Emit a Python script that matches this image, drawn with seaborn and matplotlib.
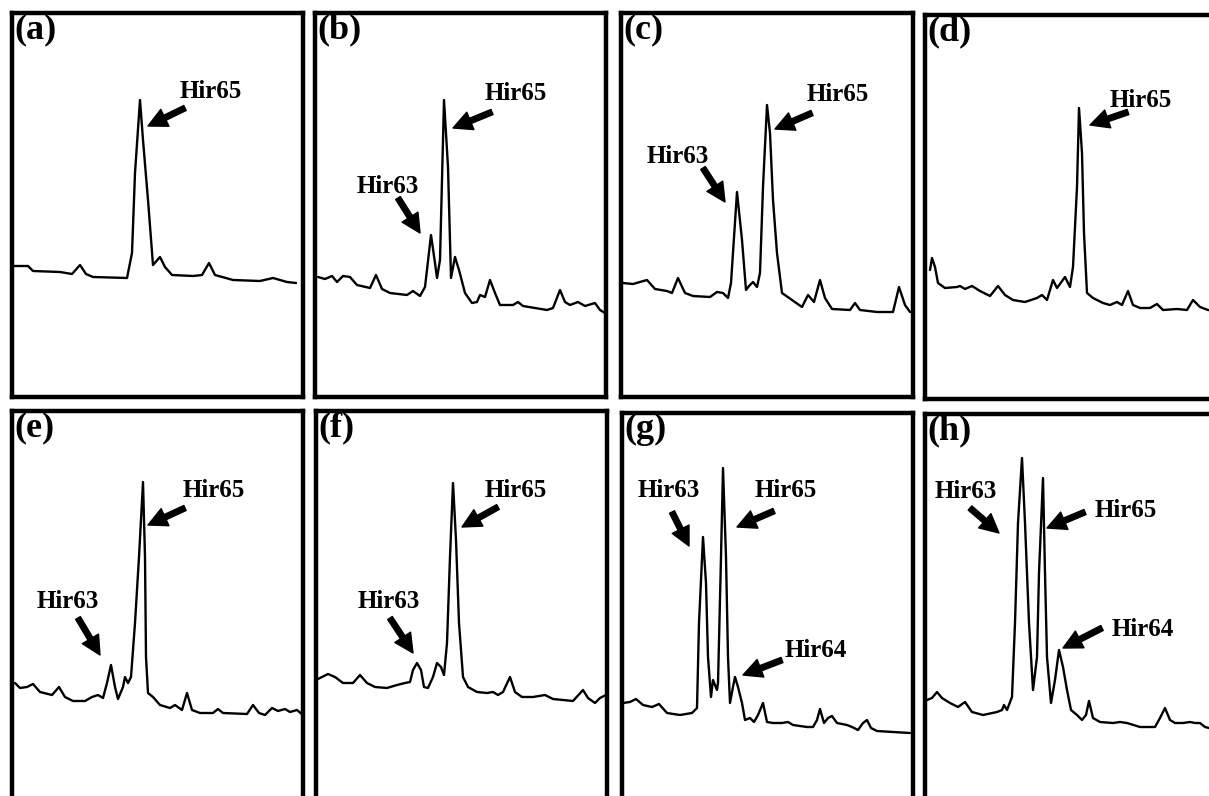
import matplotlib
matplotlib.use("Agg")
import matplotlib.pyplot as plt
import seaborn as sns

# Хроматограммы: время (условные единицы) и сигнал детектора
a_time = [1, 16, 21, 48, 60, 68, 74, 81, 115, 120, 123, 128, 131, 136, 141, 148, 153, 160,
          181, 190, 197, 203, 221, 248, 261, 275, 284]
a_signal = [131, 131, 126, 125, 123, 132, 123, 120, 119, 144, 224, 297, 257, 197, 132, 140, 130, 122,
            121, 122, 134, 122, 117, 116, 119, 115, 114]

b_time = [3, 10, 17, 22, 28, 35, 42, 55, 61, 67, 75, 92, 98, 105, 110, 116, 120, 122, 125, 129,
          133, 136, 140, 144, 150, 157, 162, 165, 170, 175, 180, 185, 198, 203, 208, 232, 238,
          245, 250, 255, 263, 270, 280, 285, 290]
b_signal = [120, 118, 121, 115, 121, 120, 112, 109, 122, 108, 104, 102, 106, 101, 110, 162, 134, 119, 137, 297,
            230, 119, 140, 127, 104, 94, 95, 102, 100, 117, 104, 92, 92, 95, 91, 87, 89,
            107, 95, 92, 95, 91, 94, 87, 84]

c_time = [2, 12, 26, 34, 46, 51, 57, 64, 72, 89, 96, 102, 107, 110, 116, 121, 125, 128, 132, 136,
          139, 142, 146, 149, 152, 156, 161, 171, 181, 187, 193, 199, 204, 211, 229, 234, 239,
          256, 272, 278, 284, 289]
c_signal = [114, 113, 117, 108, 106, 104, 119, 104, 101, 100, 105, 104, 99, 114, 205, 157, 107, 111, 115, 110,
            124, 210, 292, 264, 197, 144, 104, 97, 90, 102, 95, 117, 99, 88, 87, 94, 87,
            85, 85, 110, 92, 85]

d_time = [5, 7, 10, 13, 20, 32, 35, 40, 47, 55, 65, 73, 80, 88, 100, 112, 117, 122, 128, 132,
          140, 145, 148, 152, 154, 157, 159, 162, 168, 178, 185, 192, 197, 203, 208, 215, 225,
          232, 238, 252, 262, 268, 275, 283, 290]
d_signal = [129, 141, 132, 116, 111, 112, 113, 110, 113, 108, 103, 113, 104, 99, 97, 101, 104, 99, 119, 111,
            122, 112, 132, 212, 291, 246, 166, 106, 101, 96, 94, 97, 94, 108, 94, 91, 91,
            95, 89, 90, 89, 99, 92, 89, 88]

e_time = [3, 8, 15, 21, 28, 40, 47, 53, 61, 73, 80, 86, 91, 95, 99, 103, 106, 111, 113, 116,
          119, 123, 127, 131, 133, 134, 136, 141, 148, 158, 163, 170, 175, 180, 188, 201, 206,
          211, 235, 241, 247, 253, 260, 266, 273, 278, 285, 291]
e_signal = [112, 107, 108, 111, 103, 100, 108, 98, 94, 94, 98, 100, 97, 112, 130, 108, 96, 108, 118, 112,
            118, 172, 238, 313, 238, 138, 102, 98, 90, 87, 90, 85, 102, 85, 82, 82, 86,
            82, 81, 90, 82, 80, 87, 84, 86, 83, 85, 80]

f_time = [2, 12, 19, 27, 37, 44, 51, 59, 71, 81, 89, 94, 97, 101, 105, 108, 112, 117, 121, 125,
          128, 131, 134, 137, 140, 143, 147, 152, 161, 171, 177, 182, 187, 194, 199, 206, 217,
          229, 237, 257, 267, 272, 279, 284, 290]
f_signal = [116, 121, 118, 112, 112, 120, 112, 108, 107, 110, 112, 113, 125, 132, 125, 108, 107, 118, 132, 128,
            120, 152, 238, 312, 255, 172, 118, 108, 103, 102, 103, 100, 103, 118, 103, 98, 98,
            100, 96, 94, 105, 97, 92, 97, 100]

g_time = [1, 8, 14, 21, 30, 37, 45, 58, 70, 75, 77, 81, 84, 86, 89, 91, 95, 96, 99, 101,
          104, 106, 108, 111, 113, 116, 120, 123, 128, 132, 136, 141, 145, 151, 160, 166, 171,
          185, 191, 195, 198, 202, 206, 210, 215, 225, 230, 236, 241, 245, 249, 255, 271, 288]
g_signal = [94, 95, 98, 92, 90, 93, 84, 82, 84, 89, 174, 260, 214, 140, 100, 117, 107, 114, 240, 329,
            240, 140, 94, 110, 120, 110, 94, 77, 79, 75, 82, 94, 75, 74, 74, 75, 72,
            70, 70, 77, 88, 74, 79, 81, 74, 72, 70, 67, 74, 77, 69, 66, 65, 64]

h_time = [2, 7, 12, 17, 25, 33, 40, 47, 58, 72, 77, 79, 82, 87, 90, 93, 97, 100, 104, 108,
          112, 114, 118, 120, 122, 126, 130, 134, 138, 142, 146, 152, 157, 161, 164, 168, 175,
          188, 195, 202, 215, 230, 235, 240, 245, 250, 258, 265, 270, 275, 280, 284, 290]
h_signal = [98, 100, 106, 100, 95, 91, 96, 86, 83, 86, 88, 93, 88, 101, 175, 275, 340, 275, 175, 108,
            141, 225, 320, 225, 141, 95, 118, 148, 131, 108, 88, 83, 78, 83, 97, 80, 76,
            75, 76, 75, 71, 71, 80, 90, 78, 75, 75, 76, 75, 75, 71, 70, 68]

panel_labels = ["(a)", "(b)", "(c)", "(d)", "(e)", "(f)", "(g)", "(h)"]
traces = [(a_time, a_signal), (b_time, b_signal), (c_time, c_signal), (d_time, d_signal),
          (e_time, e_signal), (f_time, f_signal), (g_time, g_signal), (h_time, h_signal)]

# Подписи пиков: (текст, позиция текста, хвост стрелки, острие стрелки)
peak_notes = [
    [("Hir65", (168, 299), (173, 289), (136, 271))],
    [("Hir65", (170, 297), (177, 285), (138, 269)),
     ("Hir63", (42, 204), (83, 199), (105, 164))],
    [("Hir65", (186, 296), (191, 284), (154, 268)),
     ("Hir63", (26, 234), (82, 229), (104, 195))],
    [("Hir65", (185, 292), (203, 287), (165, 274))],
    [("Hir65", (171, 298), (173, 287), (136, 270)),
     ("Hir63", (25, 187), (66, 177), (88, 140))],
    [("Hir65", (169, 298), (182, 288), (146, 268)),
     ("Hir63", (42, 187), (74, 177), (97, 142))],
    [("Hir63", (16, 300), (50, 285), (67, 251)),
     ("Hir65", (133, 300), (152, 286), (115, 270)),
     ("Hir64", (163, 140), (160, 137), (121, 122))],
    [("Hir63", (10, 300), (45, 290), (74, 265)),
     ("Hir65", (170, 281), (160, 286), (122, 270)),
     ("Hir64", (187, 162), (177, 170), (138, 150))],
]

# Рамки панелей в пикселях: лево, верх, право, низ
W, H = 1209, 796
boxes = [(12, 13, 303, 397), (315, 13, 606, 397), (621, 13, 913, 397), (925, 15, 1230, 399),
         (12, 411, 303, 795), (316, 411, 607, 795), (622, 413, 913, 797), (925, 414, 1230, 798)]

sns.set_style("white")
plt.rcParams["font.family"] = ["Liberation Serif", "DejaVu Serif"]
plt.rcParams["text.color"] = "black"

fig = plt.figure(figsize=(W / 100, H / 100), dpi=100)

for i, (l, t, r, b) in enumerate(boxes):
    ax = fig.add_axes([l / W, 1 - b / H, (r - l) / W, (b - t) / H])
    x, y = traces[i]
    sns.lineplot(x=x, y=y, ax=ax, color="black", linewidth=1.7, sort=False, estimator=None)
    ax.set_xlim(0, r - l)
    ax.set_ylim(0, b - t)
    ax.set_xticks([])
    ax.set_yticks([])
    ax.set_xlabel("")
    ax.set_ylabel("")
    for side, sp in ax.spines.items():
        sp.set_visible(True)
        sp.set_color("black")
        sp.set_linewidth(3.2)
    if i >= 4:
        ax.spines["bottom"].set_visible(False)

    ax.text(0.008, 1.0, panel_labels[i], transform=ax.transAxes, ha="left", va="top",
            fontsize=26, fontweight="bold", color="black")

    for name, txt_pos, tail, head in peak_notes[i]:
        ax.text(txt_pos[0], txt_pos[1], name, ha="left", va="baseline",
                fontsize=18, fontweight="bold", color="black")
        ax.annotate("", xy=head, xytext=tail,
                    arrowprops=dict(arrowstyle="simple,head_length=0.75,head_width=0.75,tail_width=0.22",
                                    color="black", mutation_scale=18, shrinkA=0, shrinkB=0))

fig.savefig("out.png", dpi=100)
